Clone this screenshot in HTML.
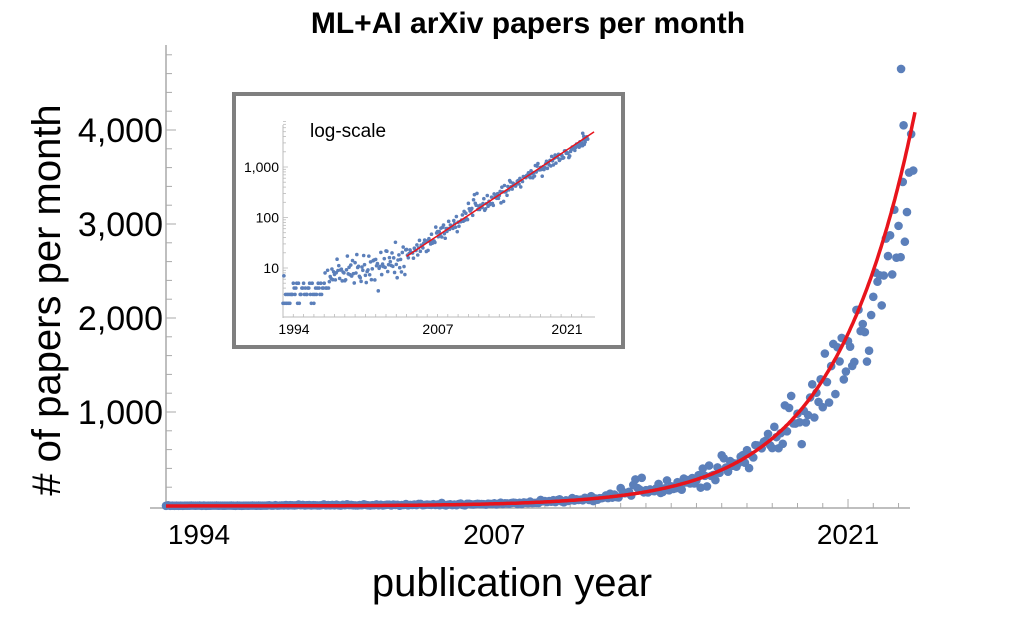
<!DOCTYPE html>
<html><head><meta charset="utf-8"><style>
body{margin:0;background:#fff;}
svg{display:block;font-family:"Liberation Sans",Calibri,sans-serif;}
</style></head><body>
<svg id="s" width="1009" height="627" viewBox="0 0 1009 627" xmlns="http://www.w3.org/2000/svg">
<text x="528" y="33" font-size="30" font-weight="bold" text-anchor="middle" fill="#000">ML+AI arXiv papers per month</text>
<g id="main"></g>
<text x="512" y="596" font-size="40" text-anchor="middle" fill="#000">publication year</text>
<text transform="translate(60,300) rotate(-90)" font-size="40" text-anchor="middle" fill="#000"># of papers per month</text>
<rect x="234" y="94" width="389" height="253" fill="#fff" stroke="#7f7f7f" stroke-width="4"/>
<g id="ins"></g>
<text x="310" y="137" font-size="19" fill="#000">log-scale</text>
</svg>
<script>
var NS="http://www.w3.org/2000/svg";
function el(p,t,a){var e=document.createElementNS(NS,t);for(var k in a)e.setAttribute(k,a[k]);p.appendChild(e);return e;}
var seed=12345;function rnd(){seed=(seed*16807)%2147483647;return seed/2147483647;}
function gauss(){return Math.sqrt(-2*Math.log(rnd()+1e-9))*Math.cos(2*Math.PI*rnd());}
function trend(t){
 if(t<1998.5)return 3.5;
 if(t<2006)return Math.pow(10,0.8+(t-1998.5)*0.055);
 if(t<2018)return 17*Math.exp(0.312*(t-2006));
 return 17*Math.exp(0.312*12)*Math.exp(0.27*(t-2018));
}
var pts=[];
for(var m=0;m<356;m++){
 var t=1994+m/12;var v;
 if(t<1998.5){v=[2,3,4,5,3,4,2,5][Math.floor(rnd()*8)];if(rnd()<0.05)v=7+Math.floor(rnd()*3);}
 else{v=trend(t)*Math.exp(gauss()*(t<2006?0.35:(t>2019?0.13:0.2)));if(t>2011&&t<2013&&rnd()<0.3)v*=1.8;}
 pts.push([t,v]);
}
pts.push([2023.1,4650]);pts.push([2023.2,4050]);
// main
var g=document.getElementById("main");
function X(t){return 166+(t-1994)*25.26;}
function Y(v){return 506-v*0.094;}
el(g,"line",{x1:166,y1:45,x2:166,y2:510,stroke:"#aaa","stroke-width":1.5});
el(g,"line",{x1:150,y1:508,x2:910,y2:508,stroke:"#aaa","stroke-width":1.5});
for(var v=200;v<=4800;v+=200){var y=Y(v);el(g,"line",{x1:166,y1:y,x2:v%1000==0?176:172,y2:y,stroke:"#aaa","stroke-width":1});}
[[1000,"1,000"],[2000,"2,000"],[3000,"3,000"],[4000,"4,000"]].forEach(function(a){var tx=el(g,"text",{x:163,y:Y(a[0])+12,"font-size":34,"text-anchor":"end",fill:"#000"});tx.textContent=a[1];});
for(var yr=1995;yr<=2023;yr++){var x=X(yr);el(g,"line",{x1:x,y1:508,x2:x,y2:(yr==2007||yr==2021)?499:503,stroke:"#aaa","stroke-width":1});}
[[1994,"1994"],[2007,"2007"],[2021,"2021"]].forEach(function(a){var tx=el(g,"text",{x:X(a[0])+(a[0]==1994?33:0),y:544,"font-size":28,"text-anchor":"middle",fill:"#000"});tx.textContent=a[1];});
pts.forEach(function(p){el(g,"circle",{cx:X(p[0]),cy:Y(p[1]),r:4.3,fill:"#5b7fba"});});
var d="";for(var t=1994;t<=2023.65;t+=0.05){d+=(d?"L":"M")+X(t).toFixed(1)+","+Y(17*Math.exp(0.312*(t-2006))).toFixed(1);}
el(g,"path",{d:d,fill:"none",stroke:"#e8141c","stroke-width":3.5});
// inset
var h=document.getElementById("ins");
function x2(t){return 283+(t-1994)*10.3;}
function y2(v){return 268-(Math.log10(v)-1)*50.5;}
el(h,"line",{x1:283,y1:125,x2:283,y2:318,stroke:"#bbb","stroke-width":1});
el(h,"line",{x1:283,y1:317,x2:595,y2:317,stroke:"#bbb","stroke-width":1});
for(var dd=1;dd<=1000;dd*=10)for(var k=1;k<10;k++){var vv=dd*k;if(vv<2||vv>8000)continue;el(h,"line",{x1:283,y1:y2(vv),x2:k==1?288:286,y2:y2(vv),stroke:"#bbb","stroke-width":0.8});}
[[10,"10"],[100,"100"],[1000,"1,000"]].forEach(function(a){var tx=el(h,"text",{x:279,y:y2(a[0])+5,"font-size":14,"text-anchor":"end",fill:"#000"});tx.textContent=a[1];});
for(var yr=1995;yr<=2023;yr++)el(h,"line",{x1:x2(yr),y1:317,x2:x2(yr),y2:314,stroke:"#bbb","stroke-width":0.8});
[[1994,"1994",294],[2007,"2007",438],[2021,"2021",567]].forEach(function(a){var tx=el(h,"text",{x:a[2],y:334,"font-size":14,"text-anchor":"middle",fill:"#000"});tx.textContent=a[1];});
pts.forEach(function(p){el(h,"circle",{cx:x2(p[0]),cy:y2(Math.max(p[1],2)),r:1.8,fill:"#5b7fba"});});
el(h,"line",{x1:x2(2006),y1:y2(17),x2:x2(2024.2),y2:y2(17*Math.exp(0.312*18.2)),stroke:"#e8141c","stroke-width":1.5});
</script>
</body></html>
